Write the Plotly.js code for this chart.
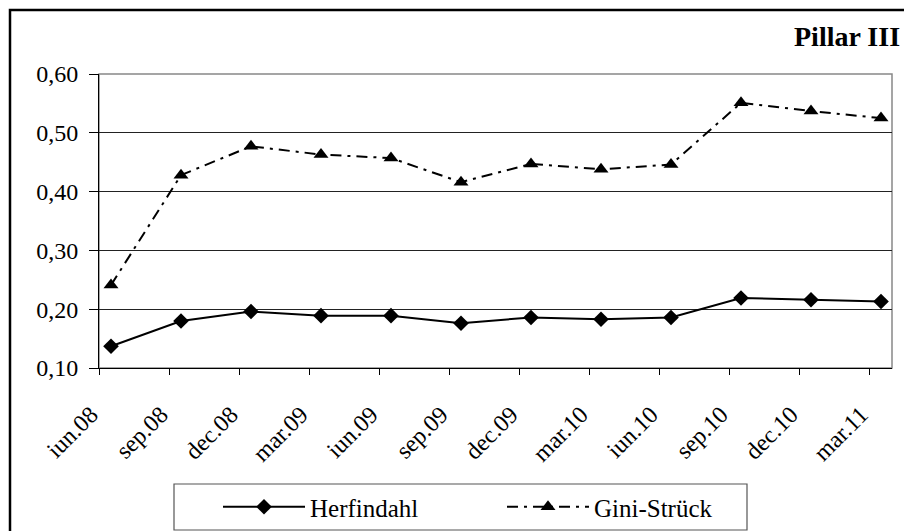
<!DOCTYPE html>
<html>
<head>
<meta charset="utf-8">
<script src="https://cdn.plot.ly/plotly-3.0.1.min.js"></script>
<style>html,body{margin:0;padding:0;background:#fff;}#chart{width:904px;height:531px;}</style>
</head>
<body>
<div id="chart"></div>
<script>
const categories = ["iun.08","sep.08","dec.08","mar.09","iun.09","sep.09","dec.09","mar.10","iun.10","sep.10","dec.10","mar.11"];
const herfindahl = [0.137,0.180,0.196,0.189,0.189,0.176,0.186,0.183,0.186,0.219,0.216,0.213];
const gini = [0.241,0.428,0.477,0.463,0.457,0.416,0.447,0.438,0.446,0.551,0.537,0.525];
const yTickVals = [0.10,0.20,0.30,0.40,0.50,0.60];
const yTickText = ["0,10","0,20","0,30","0,40","0,50","0,60"];
const titleText = "Pillar III";

const xIdx = categories.map((c,i)=>i);
const tickShift = 12/70;
const xTicks = xIdx.map(i=>i - tickShift);
const FONT = "Liberation Serif";

// pixel helpers for paper coordinates (plot area 99..892 x 74..368)
const PL = 99, PW = 793, PB = 368, PH = 294, H = 531;
const px = v => (v - PL) / PW;
const py = v => (PB - v) / PH;
const cy = v => (H - v) / H;

const traces = [
  {x:xIdx, y:herfindahl, name:"Herfindahl", type:"scatter", mode:"lines+markers",
   line:{color:"#000", width:2}, marker:{symbol:"diamond", size:12, color:"#000"}},
  {x:xIdx, y:gini, name:"Gini-Strück", type:"scatter", mode:"lines+markers",
   line:{color:"#000", width:2, dash:"11px,6px,3px,6px"}, marker:{symbol:"triangle-up", size:13, color:"#000"}}
];

const layout = {
  width:904, height:H,
  margin:{l:99, r:12, t:74, b:163, pad:0},
  paper_bgcolor:"#fff", plot_bgcolor:"#fff",
  font:{family:FONT, size:24, color:"#000"},
  showlegend:true,
  legend:{orientation:"h", xref:"paper", x:px(218), xanchor:"left", yref:"container", y:cy(507), yanchor:"middle",
    bgcolor:"rgba(0,0,0,0)", borderwidth:0, font:{family:FONT, size:25, color:"#000"},
    entrywidth:187, itemwidth:82, traceorder:"normal"},
  xaxis:{range:[-tickShift, 11.157], tickmode:"array", tickvals:xTicks, ticktext:categories,
    tickangle:-45, ticks:"outside", ticklen:6, tickcolor:"#000", tickwidth:1,
    showline:true, linecolor:"#000", linewidth:1, showgrid:false, zeroline:false, automargin:false,
    ticklabelstandoff:16, ticklabelshift:-8, tickfont:{family:FONT, size:24, color:"#000"}},
  yaxis:{range:[0.10,0.60], tickmode:"array", tickvals:yTickVals, ticktext:yTickText,
    ticks:"outside", ticklen:9, tickcolor:"#000", tickwidth:1, automargin:false,
    showline:true, linecolor:"#000", linewidth:1, showgrid:true, gridcolor:"#222", gridwidth:1,
    zeroline:false, ticklabelstandoff:6, tickfont:{family:FONT, size:24, color:"#000"}},
  shapes:[
    {type:"rect", xref:"paper", yref:"paper", x0:0, x1:1, y0:0, y1:1, line:{color:"#888", width:1.5}, fillcolor:"rgba(0,0,0,0)", layer:"below"},
    {type:"rect", xref:"paper", yref:"paper", x0:px(10), x1:2, y0:-2, y1:py(10), line:{color:"#000", width:2.5}, fillcolor:"rgba(0,0,0,0)", layer:"below"},
    {type:"rect", xref:"paper", yref:"paper", x0:px(174), x1:px(747), y0:py(530), y1:py(484), line:{color:"#555", width:1.2}, fillcolor:"rgba(0,0,0,0)", layer:"below"}
  ],
  annotations:[
    {text:"<b>"+titleText+"</b>", xref:"paper", yref:"paper", x:px(902), xanchor:"right", y:py(37), yanchor:"middle",
     showarrow:false, font:{family:FONT, size:28, color:"#000"}}
  ]
};
Plotly.newPlot("chart", traces, layout, {displayModeBar:false, staticPlot:true});
</script>
</body>
</html>
